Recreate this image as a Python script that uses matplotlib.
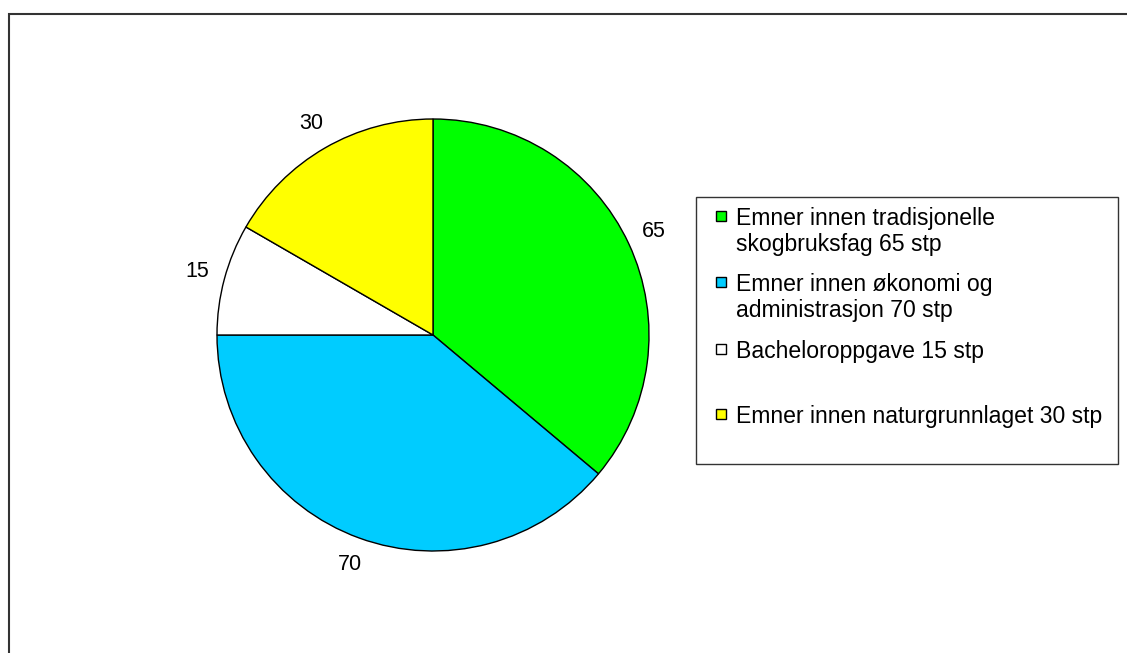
import matplotlib
matplotlib.use('Agg')
from matplotlib import pylab as plt
from matplotlib.patches import Rectangle

plt.rcParams['font.family'] = ['Liberation Sans', 'DejaVu Sans']

values = [65, 70, 15, 30]
labels = ['Emner innen tradisjonelle\nskogbruksfag 65 stp',
          'Emner innen \u00f8konomi og\nadministrasjon 70 stp',
          'Bacheloroppgave 15 stp',
          'Emner innen naturgrunnlaget 30 stp']
colors = ['#00ff00', '#00ccff', '#ffffff', '#ffff00']

W, H = 1127, 653
fig = plt.figure(figsize=(W / 100, H / 100), dpi=100)

def fx(px):
    return px / W

def fy(py):
    return 1 - py / H

# outer chart frame (right and bottom edges fall outside the image)
fig.patches.append(Rectangle((fx(9), -0.1), 1.2, fy(14) + 0.1,
                             transform=fig.transFigure, fill=False,
                             edgecolor='#333333', linewidth=1.5))

# pie: centre (433, 335) px, radius 216 px
cx, cy, r = 433, 335, 216
ax = fig.add_axes([fx(cx - r), fy(cy + r), 2 * r / W, 2 * r / H])
ax.pie(values, colors=colors, startangle=90, counterclock=False,
       autopct=lambda p: '{:.0f}'.format(p * sum(values) / 100),
       pctdistance=1.13, radius=1,
       wedgeprops={'edgecolor': 'black', 'linewidth': 1},
       textprops={'fontsize': 15.5, 'color': 'black'})
ax.set_xlim(-1, 1)
ax.set_ylim(-1, 1)
ax.set_aspect('equal')
ax.axis('off')

# legend box drawn by hand to match the spacing of the original
fig.patches.append(Rectangle((fx(696), fy(464)), fx(1118 - 696), (464 - 197) / H,
                             transform=fig.transFigure, fill=False,
                             edgecolor='#333333', linewidth=1))
entry_y = [216, 282, 349, 414]
for lab, col, y0 in zip(labels, colors, entry_y):
    fig.patches.append(Rectangle((fx(716), fy(y0 + 5)), fx(10), 10 / H,
                                 transform=fig.transFigure, facecolor=col,
                                 edgecolor='black', linewidth=1))
    for i, line in enumerate(lab.split('\n')):
        fig.text(fx(736), fy(y0 + i * 26), line, fontsize=16.6,
                 ha='left', va='center_baseline')

fig.savefig('out.png', dpi=100, facecolor='white')
